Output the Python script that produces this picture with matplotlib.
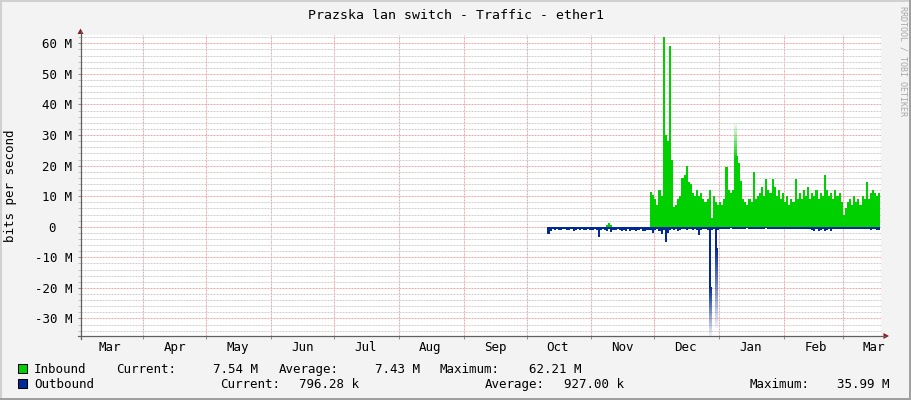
import numpy as np
import pandas as pd
import matplotlib
matplotlib.use('Agg')
import matplotlib.pyplot as plt
import matplotlib.dates as mdates
import matplotlib.colors as mcolors
from matplotlib.patches import Rectangle, Polygon
from matplotlib.lines import Line2D
from matplotlib.transforms import ScaledTranslation

plt.rcParams['font.family'] = ['DejaVu Sans Mono']

W, H = 911, 400

# ---- data (Mbit/s, one value per day) ----
in_start = '2014-11-29'
in_vals = [11.5, 10.5, 9, 7, 12, 10, 62, 30, 28, 59,
           22, 6.5, 7, 9, 10, 16, 17, 20, 14.5, 14,
           11, 10, 12, 10, 11, 9, 8, 9, 12, 3,
           10, 8, 7, 8, 7, 9, 19.5, 12, 11, 12,
           22, 23, 21, 15, 9, 8, 7, 9, 8, 18,
           9, 10, 11, 13, 10, 15.7, 12, 11, 15.5, 13,
           10, 12, 9, 11, 8, 10, 7, 9, 8, 15.5,
           9, 11, 9, 12, 10, 13, 9, 11, 10, 12,
           9, 11, 10, 17, 12, 10, 11, 9, 12, 10,
           11, 8, 4, 6, 8, 9, 7, 10, 8, 9,
           7, 10, 9, 14.5, 9, 11, 12, 11, 10, 11]
in_peak_days = ['2015-01-08']
in_peak_vals = [34.0]
bump_start = '2014-11-08'
bump_vals = [0.6, 1.3, 0.5]

out_start = '2014-10-11'
out_vals = [2.5, 1.5,
            0.9, 1.1, 0.8, 1.0, 1.2, 0.9, 0.8, 1.1, 1.0, 0.9, 1.3, 1.0, 0.8, 1.1, 0.9, 1.2, 1.0, 0.8, 1.1,
            1.0, 0.9, 1.2, 3.5, 1.1, 0.9, 1.0, 1.3, 0.8, 1.7, 1.0, 1.2, 0.9, 1.1, 1.4,
            1.0, 1.3, 0.9, 1.5, 1.1, 1.0, 1.4, 1.2, 0.9, 1.3, 1.5, 1.0, 1.2, 1.1, 2.2,
            1.0, 0.8, 1.5, 2.5, 1.2, 5.0, 2.0, 1.0, 0.8, 1.2, 0.9, 1.5, 1.0, 0.8, 0.9, 1.1,
            0.7, 0.9, 1.0, 0.8, 1.2, 2.8, 1.0, 0.8, 0.9, 1.0, 20.0, 1.0, 0.9, 7.0, 1.0,
            0.7, 0.8, 0.6, 0.9, 0.7, 0.5, 0.8, 0.6, 0.7, 0.9, 0.6, 0.8, 0.7, 0.5, 0.6, 0.8,
            0.7, 0.9, 0.6, 0.7, 0.8, 0.6, 0.5, 0.7, 0.9, 0.6, 0.8, 0.7, 0.6, 0.8, 0.7,
            0.7, 0.6, 0.8, 0.7, 0.9, 0.6, 0.8, 0.7, 0.6, 0.9, 0.7, 0.8, 0.6, 1.0, 1.3, 0.9,
            1.4, 1.1, 0.8, 1.5, 1.2, 0.9, 1.3, 0.8, 0.7, 0.9, 0.6, 0.8,
            0.7, 0.6, 0.8, 0.9, 0.7, 0.6, 0.8, 0.7, 0.9, 0.6, 0.7, 0.8, 0.9, 1.0, 0.8, 0.9, 1.1, 1.0]
out_peak_days = ['2014-12-27', '2014-12-30']
out_peak_vals = [36.0, 33.0]

title = 'Prazska lan switch - Traffic - ether1'
y_label = 'bits per second'
y_major = [-30, -20, -10, 0, 10, 20, 30, 40, 50, 60]

leg_names = ['Inbound', 'Outbound']
leg_colors = ['#00CF00', '#002A97']
row1 = [('Current:', 116), ('7.54 M', 213), ('Average:', 279), ('7.43 M', 375),
        ('Maximum:', 440), ('62.21 M', 529)]
row2 = [('Current:', 220), ('796.28 k', 299), ('Average:', 485), ('927.00 k', 564),
        ('Maximum:', 750), ('35.99 M', 837)]

GREEN, BLUE = leg_colors


def fx(x):
    return x / W


def fy(y):
    return 1 - y / H


def steps(start, vals):
    d = pd.date_range(start, periods=len(vals) + 1, freq='D')
    x = mdates.date2num(d)
    v = list(vals) + [vals[-1]]
    return x, np.array(v, dtype=float)


def fade(ax, day, y0, y1, color):
    x0 = mdates.date2num(pd.Timestamp(day))
    img = np.ones((64, 1, 4))
    img[..., :3] = mcolors.to_rgb(color)
    img[:, 0, 3] = np.linspace(1.0, 0.05, 64)
    ax.imshow(img, extent=[x0, x0 + 1, y0, y1], origin='lower', aspect='auto',
              interpolation='bilinear', zorder=2)


fig = plt.figure(figsize=(W / 100, H / 100), dpi=100, facecolor='#F3F3F3')
ax = fig.add_axes([fx(80.5), fy(336), fx(881) - fx(80.5), fy(34.5) - fy(336)])
ax.set_facecolor('white')

xi, yi = steps(in_start, in_vals)
ax.fill_between(xi, 0, yi, step='post', color=GREEN, lw=0, zorder=3)
xb, yb = steps(bump_start, bump_vals)
ax.fill_between(xb, 0, yb, step='post', color=GREEN, lw=0, zorder=3)
xo, yo = steps(out_start, out_vals)
ax.fill_between(xo, 0, -yo, step='post', color=BLUE, lw=0, zorder=3)

start_in = pd.Timestamp(in_start)
for day, pk in zip(in_peak_days, in_peak_vals):
    k = (pd.Timestamp(day) - start_in).days
    fade(ax, day, in_vals[k], pk, GREEN)
start_out = pd.Timestamp(out_start)
for day, pk in zip(out_peak_days, out_peak_vals):
    k = (pd.Timestamp(day) - start_out).days
    fade(ax, day, -out_vals[k], -pk, BLUE)

x0 = mdates.date2num(pd.Timestamp('2014-03-01')) + 1.008
x1 = mdates.date2num(pd.Timestamp('2014-03-01')) + 383.29
ax.set_xlim(x0, x1)
ax.set_ylim(-35.75, 62.9)

# grid
ax.xaxis.set_major_locator(mdates.MonthLocator())
ax.xaxis.set_minor_locator(mdates.MonthLocator(bymonthday=16))
ax.xaxis.set_major_formatter(plt.NullFormatter())
ax.xaxis.set_minor_formatter(mdates.DateFormatter('%b'))
ax.set_yticks(y_major)
ax.set_yticks(np.arange(-34, 63, 2), minor=True)
ax.set_yticklabels([f'{v} M' if v else '' for v in y_major])
# rrdtool keeps the "0" in the digit column, not flush right
ax.text(0, 0, '0', transform=ax.get_yaxis_transform() + ScaledTranslation(-0.245, 0, fig.dpi_scale_trans),
        ha='right', va='center_baseline', fontsize=9)

dots = (0, (2, 1))
ax.grid(True, which='major', axis='both', color='#F2A8A8', lw=0.72, linestyle=dots, zorder=0)
ax.grid(True, which='minor', axis='y', color='#D0D0D0', lw=0.72, linestyle=dots, zorder=0)
ax.grid(False, which='minor', axis='x')
ax.set_axisbelow(True)
ticks = ax.xaxis.get_major_ticks() + ax.yaxis.get_major_ticks() + ax.yaxis.get_minor_ticks()
for t in ticks:
    t.gridline.set_snap(True)

ax.tick_params(axis='y', which='major', direction='out', length=2.2, width=0.75,
               color='#909090', labelsize=9, pad=3.6)
ax.tick_params(axis='y', which='minor', direction='out', length=2.2, width=0.75,
               color='#C4C4C4')
ax.tick_params(axis='x', which='major', direction='out', length=2.5, width=0.75,
               color='#909090')
ax.tick_params(axis='x', which='minor', length=0, labelsize=9, pad=3.5)
for s in ax.spines.values():
    s.set_visible(False)

# axes lines and arrows
axc = '#606060'
fig.add_artist(Line2D([fx(80.5), fx(80.5)], [fy(339), fy(31)], color=axc, lw=0.9))
fig.add_artist(Line2D([fx(77.5), fx(885)], [fy(336), fy(336)], color=axc, lw=0.9))
arc = '#8E1A1A'
fig.add_artist(Polygon([[fx(77.5), fy(34)], [fx(83.5), fy(34)], [fx(80.5), fy(28.5)]],
                       closed=True, color=arc, lw=0))
fig.add_artist(Polygon([[fx(883.5), fy(333)], [fx(883.5), fy(339)], [fx(889), fy(336)]],
                       closed=True, color=arc, lw=0))

# texts
fig.text(fx(455.5), fy(18.7), title, ha='center', va='baseline', fontsize=9.5, color='#000000')
fig.text(fx(10.5), fy(186), y_label, rotation=90, ha='center', va='center', fontsize=9)
fig.text(fx(903), fy(61), 'RRDTOOL / TOBI OETIKER', rotation=270, ha='center', va='center',
         fontsize=6, color='#A8A8A8')

# legend
for k, (name, col, row, base) in enumerate(zip(leg_names, leg_colors, [row1, row2], [372.7, 388.3])):
    fig.add_artist(Rectangle((fx(17.5), fy(base)), fx(9.5), fy(0) - fy(9), transform=fig.transFigure,
                             facecolor=col, edgecolor='black', lw=0.75))
    fig.text(fx(34), fy(base), name, ha='left', va='baseline', fontsize=9)
    for txt, xpos in row:
        fig.text(fx(xpos), fy(base), txt, ha='left', va='baseline', fontsize=9)

# frame
fig.add_artist(Rectangle((0, fy(2)), 1, fy(0) - fy(2), transform=fig.transFigure, color='#D0D0D0', lw=0))
fig.add_artist(Rectangle((0, 0), fx(2), 1, transform=fig.transFigure, color='#D0D0D0', lw=0))
fig.add_artist(Rectangle((0, 0), 1, fy(398), transform=fig.transFigure, color='#A0A0A0', lw=0))
fig.add_artist(Rectangle((fx(909), 0), fx(2), 1, transform=fig.transFigure, color='#A0A0A0', lw=0))

fig.savefig('out.png', dpi=100, facecolor=fig.get_facecolor())
